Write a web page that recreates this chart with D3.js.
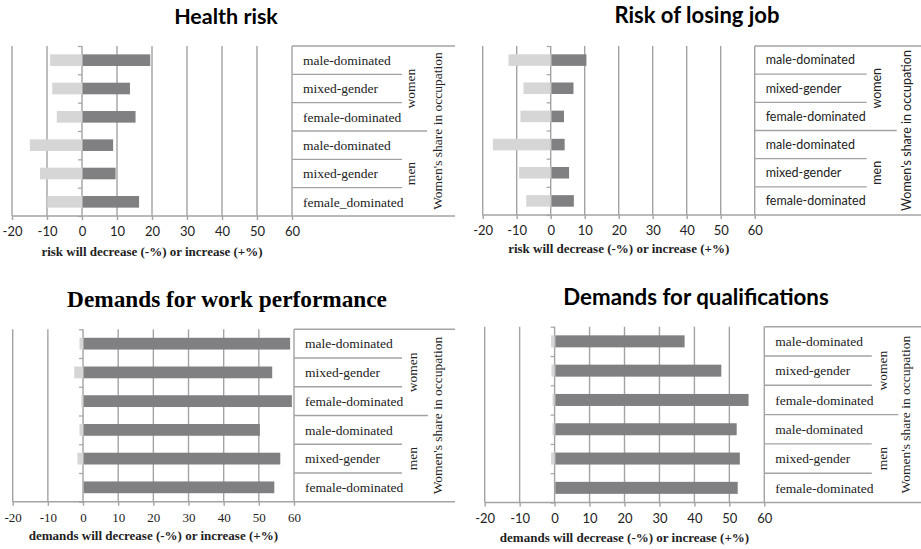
<!DOCTYPE html>
<html>
<head>
<meta charset="utf-8">
<script src="https://cdn.jsdelivr.net/npm/d3@7"></script>
<style>
  body { margin: 0; background: #fff; }
  svg { display: block; }
</style>
</head>
<body>
<script>
// ---- data ----
var categories = ["male-dominated", "mixed-gender", "female-dominated", "male-dominated", "mixed-gender", "female-dominated"];
var categoriesHealth = ["male-dominated", "mixed-gender", "female-dominated", "male-dominated", "mixed-gender", "female_dominated"];
var groups = ["women", "men"];
var xTicks = [-20, -10, 0, 10, 20, 30, 40, 50, 60];

var healthDecrease = [-9.1, -8.5, -7.2, -14.9, -12.0, -9.9];
var healthIncrease = [19.3, 13.5, 15.1, 8.7, 9.4, 16.1];
var jobDecrease = [-12.4, -8.0, -8.9, -17.0, -9.3, -7.2];
var jobIncrease = [10.3, 6.5, 3.7, 3.9, 5.2, 6.6];
var workDecrease = [-1.0, -2.5, -0.5, -1.0, -1.6, 0];
var workIncrease = [58.7, 53.6, 59.2, 50.1, 55.9, 54.2];
var qualDecrease = [-1.0, -0.9, -0.6, -0.6, -1.0, 0];
var qualIncrease = [37.0, 47.5, 55.3, 51.9, 52.8, 52.2];

var SANS = "Lato, 'Open Sans', sans-serif";
var SERIF = "'Liberation Serif', 'DejaVu Serif', serif";
var dark = "#808083", light = "#d6d6d6", grid = "#a3a3a3";

var svg = d3.select("body").append("svg")
    .attr("width", 921)
    .attr("height", 549);

/* ### one panel ######################################################### */
function panel(o){
	var g = svg.append("g");

	var x = d3.scaleLinear().domain([-20, 60]).range([o.x0, o.x1]);
	var rows = d3.scaleLinear().domain([0, 6]).range([o.y0, o.y1]);
	var y = d3.scaleBand().domain(d3.range(6)).range([o.y0, o.y1])
		.paddingInner(0.59).paddingOuter(0.295);

	// title
	g.append("text")
		.attr("x", o.titleX).attr("y", o.titleY)
		.attr("text-anchor", "middle")
		.style("font-family", o.titleFont)
		.style("font-weight", "bold")
		.style("font-size", o.titleSize + "px")
		.text(o.title);

	// vertical gridlines
	g.selectAll(".grid")
		.data(xTicks)
	  .enter().append("line")
		.attr("x1", function(d){ return x(d); })
		.attr("x2", function(d){ return x(d); })
		.attr("y1", o.y0).attr("y2", o.y1)
		.attr("stroke", grid).attr("stroke-width", 1.4);

	// bars
	g.selectAll(".neg")
		.data(o.neg)
	  .enter().append("rect")
		.attr("x", function(d){ return x(Math.min(0, d)); })
		.attr("y", function(d, i){ return y(i); })
		.attr("width", function(d){ return Math.abs(x(d) - x(0)); })
		.attr("height", y.bandwidth())
		.attr("fill", light);

	g.selectAll(".pos")
		.data(o.pos)
	  .enter().append("rect")
		.attr("x", x(0) + 0.7)
		.attr("y", function(d, i){ return y(i); })
		.attr("width", function(d){ return x(d) - x(0); })
		.attr("height", y.bandwidth())
		.attr("fill", dark);

	// category axis at zero: boundary ticks only
	var ya = g.append("g")
		.attr("transform", "translate(" + x(0) + ",0)")
		.call(d3.axisLeft(rows).tickValues(d3.range(7)).tickSize(4).tickFormat(""));
	ya.select(".domain").remove();
	ya.selectAll("line").attr("stroke", grid).attr("stroke-width", 1.2);

	// x axis
	var xa = g.append("g")
		.attr("transform", "translate(0," + o.y1 + ")")
		.call(d3.axisBottom(x).tickValues(xTicks).tickSize(4).tickPadding(7)
			.tickFormat(function(d){ return String(d); }));
	xa.select(".domain").remove();
	xa.selectAll("line").attr("stroke", grid).attr("stroke-width", 1.4);
	xa.selectAll("text")
		.style("font-family", o.tickFont)
		.style("font-size", "13px")
		.attr("fill", "#222");

	// table rules
	var tl = x(60);
	g.selectAll(".rule")
		.data(d3.range(7))
	  .enter().append("line")
		.attr("x1", function(d){ return d === 6 ? o.x0 : tl; })
		.attr("x2", function(d){
			if (d === 0 || d === 6) return tl + o.outer;
			if (d === 3) return tl + o.mid;
			return tl + o.sub;
		})
		.attr("y1", function(d){ return rows(d); })
		.attr("y2", function(d){ return rows(d); })
		.attr("stroke", grid).attr("stroke-width", 1.4);

	// row labels
	g.selectAll(".cat")
		.data(o.cats)
	  .enter().append("text")
		.attr("x", tl + 11)
		.attr("y", function(d, i){ return rows(i + 0.5); })
		.attr("dy", "0.35em")
		.style("font-family", o.tableFont)
		.style("font-size", o.tableSize + "px")
		.attr("fill", "#222")
		.text(function(d){ return d; });

	// group labels
	g.selectAll(".grp")
		.data(groups)
	  .enter().append("text")
		.attr("transform", function(d, i){
			return "translate(" + (tl + o.groupX) + "," + rows(i * 3 + 1.5) + ") rotate(-90)";
		})
		.attr("text-anchor", "middle")
		.attr("dy", "0.35em")
		.style("font-family", o.tableFont)
		.style("font-size", o.tableSize + "px")
		.attr("fill", "#222")
		.text(function(d){ return d; });

	g.append("text")
		.attr("transform", "translate(" + (tl + o.shareX) + "," + rows(3) + ") rotate(-90)")
		.attr("text-anchor", "middle")
		.attr("dy", "0.35em")
		.style("font-family", o.tableFont)
		.style("font-size", o.tableSize + "px")
		.attr("fill", "#222")
		.text("Women's share in occupation");

	// x axis title
	g.append("text")
		.attr("x", (o.x0 + o.x1) / 2)
		.attr("y", o.axisY)
		.attr("text-anchor", "middle")
		.style("font-family", SERIF)
		.style("font-weight", "bold")
		.style("font-size", "13px")
		.attr("fill", "#222")
		.text(o.axisTitle);
}

panel({
	title: "Health risk", titleX: 226, titleY: 24, titleFont: SANS, titleSize: 21.5,
	x0: 12, x1: 292, y0: 46, y1: 216,
	neg: healthDecrease, pos: healthIncrease, cats: categoriesHealth,
	tickFont: SANS, tableFont: SERIF, tableSize: 13.5,
	sub: 110, mid: 135, outer: 163, groupX: 118, shareX: 145,
	axisTitle: "risk will decrease (-%) or increase (+%)", axisY: 256
});

panel({
	title: "Risk of losing job", titleX: 697, titleY: 23, titleFont: SANS, titleSize: 22,
	x0: 482.7, x1: 754.7, y0: 46, y1: 215,
	neg: jobDecrease, pos: jobIncrease, cats: categories,
	tickFont: SANS, tableFont: SANS, tableSize: 12.5,
	sub: 112, mid: 142, outer: 170, groupX: 122, shareX: 152,
	axisTitle: "risk will decrease (-%) or increase (+%)", axisY: 253
});

panel({
	title: "Demands for work performance", titleX: 227, titleY: 306.5, titleFont: SERIF, titleSize: 23.3,
	x0: 12.7, x1: 294, y0: 329.3, y1: 501.7,
	neg: workDecrease, pos: workIncrease, cats: categories,
	tickFont: SERIF, tableFont: SERIF, tableSize: 13.5,
	sub: 108, mid: 134, outer: 161, groupX: 118, shareX: 143,
	axisTitle: "demands will decrease (-%) or increase (+%)", axisY: 540
});

panel({
	title: "Demands for qualifications", titleX: 696, titleY: 305, titleFont: SANS, titleSize: 22.3,
	x0: 484.7, x1: 764.3, y0: 326.7, y1: 502.5,
	neg: qualDecrease, pos: qualIncrease, cats: categories,
	tickFont: SANS, tableFont: SERIF, tableSize: 13.5,
	sub: 107.5, mid: 134, outer: 160, groupX: 117.5, shareX: 141,
	axisTitle: "demands will decrease (-%) or increase (+%)", axisY: 541.5
});
</script>
</body>
</html>
